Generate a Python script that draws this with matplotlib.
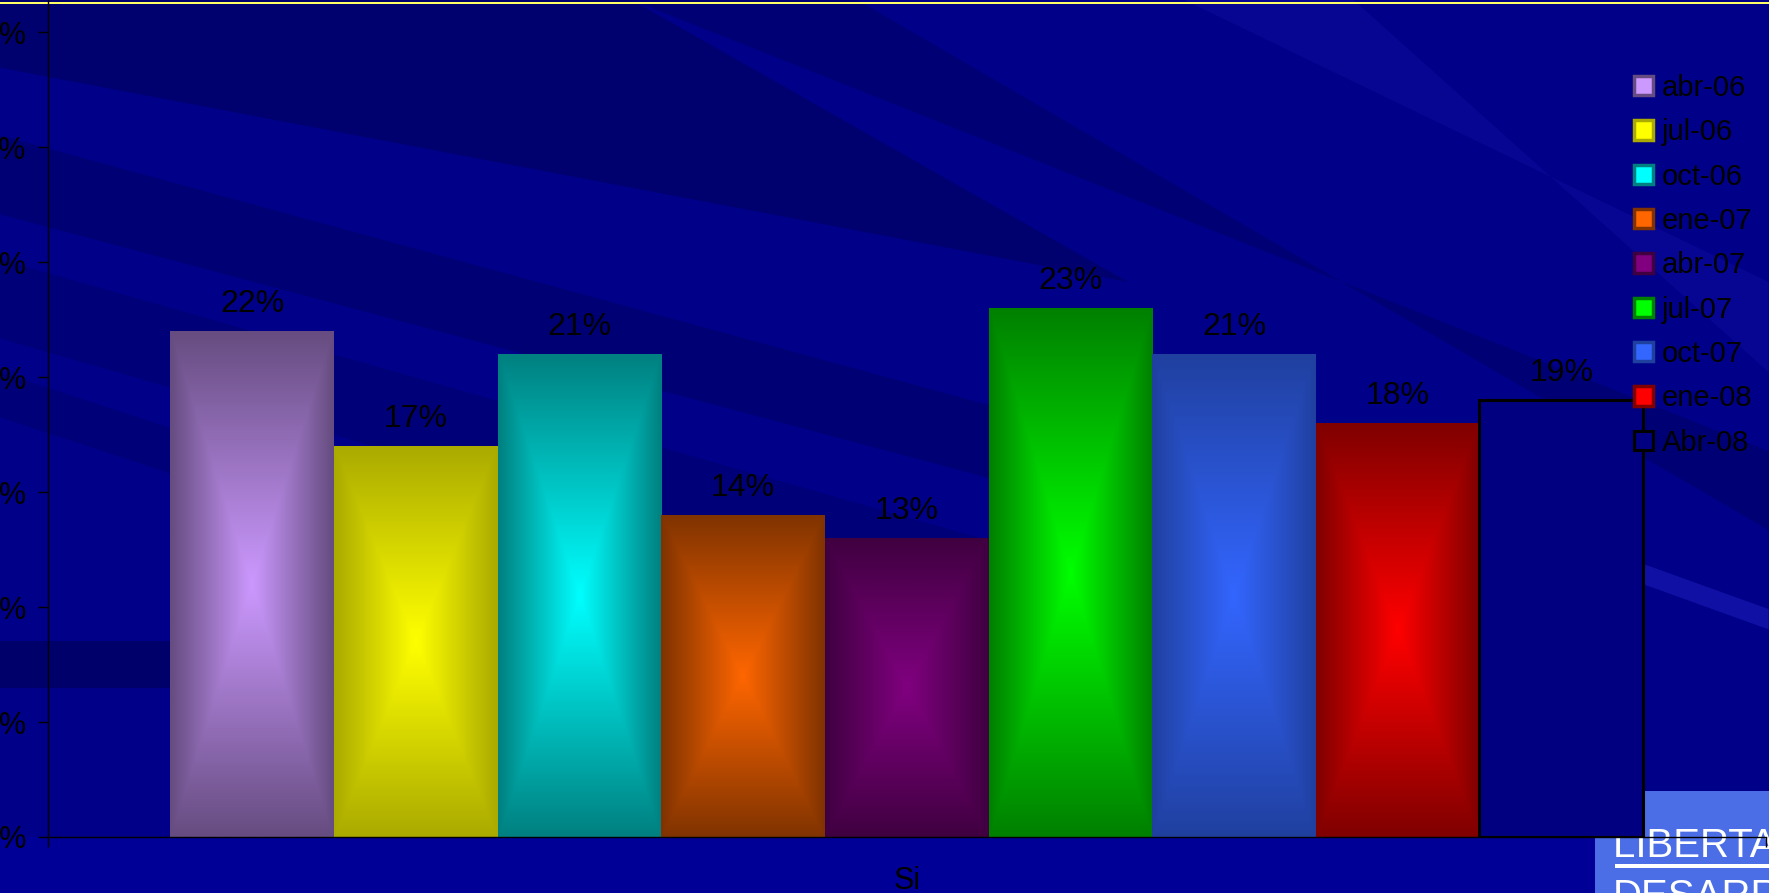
import numpy as np
import matplotlib
matplotlib.use('Agg')
import matplotlib.pyplot as plt
from matplotlib import font_manager
from matplotlib.patches import Patch, Polygon, Rectangle

# data
category = 'Si'
series = ['abr-06', 'jul-06', 'oct-06', 'ene-07', 'abr-07', 'jul-07', 'oct-07', 'ene-08', 'Abr-08']
values = [22, 17, 21, 14, 13, 23, 21, 18, 19]
yticks = [0, 5, 10, 15, 20, 25, 30, 35]

# colours (centre, edge) for the "from centre" gradient fill
centre_cols = ['#CC99FF', '#FFFF00', '#00FFFF', '#FF6600', '#800080', '#00FF00', '#3366FF', '#FF0000', None]
edge_cols = ['#664C80', '#AAAA00', '#008080', '#803300', '#400040', '#008000', '#2040A0', '#800000', None]

main_font = 'Liberation Sans'
plt.rcParams['font.family'] = [main_font, 'DejaVu Sans']

W, H = 1769, 893
fig = plt.figure(figsize=(W / 100, H / 100), dpi=100)
fig.patch.set_facecolor('#000088')

def px(pts):
    # preview pixel coords -> figure fraction
    return [(x * 1.128 / W, 1 - y * 1.128 / H) for x, y in pts]

# background streaks
dark = [
    ([(0, 0), (560, 0), (1000, 250), (0, 60)], 0.35),
    ([(0, 120), (0, 190), (1050, 470), (1100, 420)], 0.25),
    ([(0, 230), (0, 300), (900, 560), (950, 500)], 0.22),
    ([(0, 330), (0, 370), (700, 600), (720, 565)], 0.2),
    ([(0, 568), (160, 568), (160, 610), (0, 610)], 0.4),
    ([(560, 0), (760, 0), (1568, 470), (1568, 400)], 0.25),
]
for pts, a in dark:
    fig.patches.append(Polygon(px(pts), closed=True, transform=fig.transFigure,
                               facecolor='#000040', alpha=a, lw=0, zorder=-5))
light = [
    ([(1457, 500), (1568, 540), (1568, 558), (1457, 518)], 0.5),
    ([(1050, 0), (1200, 0), (1568, 330), (1568, 250)], 0.2),
]
for pts, a in light:
    fig.patches.append(Polygon(px(pts), closed=True, transform=fig.transFigure,
                               facecolor='#2020C0', alpha=a, lw=0, zorder=-5))
# lower band under the axis
fig.patches.append(Rectangle((0, 0), 1, (H - 837) / H, transform=fig.transFigure,
                             facecolor='#000096', lw=0, zorder=-4))

# yellow line on top
fig.patches.append(Rectangle((0, 1 - 4 / H), 1, 2.5 / H, transform=fig.transFigure,
                             facecolor='#FFFF66', lw=0, zorder=-4))

# logo in the corner
fig.patches.append(Rectangle((1595 / W, 0), 1 - 1595 / W, (H - 791) / H, transform=fig.transFigure,
                             facecolor='#4B6EE6', lw=0, zorder=-3))
fig.text(1613 / W, 1 - 857 / H, 'LIBERTAD Y', color='white', fontsize=29,
         va='baseline', ha='left', zorder=-2)
fig.patches.append(Rectangle((1615 / W, 1 - 868 / H), 1, 4 / H, transform=fig.transFigure,
                             facecolor='white', lw=0, zorder=-2))
fig.text(1613 / W, 1 - 908 / H, 'DESARROLLO', color='white', fontsize=29,
         va='baseline', ha='left', zorder=-2)

ax = fig.add_axes([47.5 / W, (H - 837) / H, (1766 - 47.5) / W, 837 / H])
ax.patch.set_alpha(0)

n = len(values)
group = 0.857
bw = group / n
xs = -group / 2 + bw * (np.arange(n) + 0.5)

# gradient image used for each bar
u = np.linspace(-1, 1, 80)
v = np.linspace(-1, 1, 240)
U, V = np.meshgrid(u, v)
T = np.maximum(np.abs(U), np.abs(V))[..., None]

handles = []
for i, (x, val) in enumerate(zip(xs, values)):
    c1, c2 = centre_cols[i], edge_cols[i]
    if c1 is None:
        ax.bar(x, val, width=bw, color='#000080', edgecolor='black', linewidth=2.2, zorder=3)
        handles.append(Patch(facecolor='#000080', edgecolor='black', linewidth=2.2, label=series[i]))
    else:
        a = np.array(matplotlib.colors.to_rgb(c1))
        b = np.array(matplotlib.colors.to_rgb(c2))
        img = a * (1 - T) + b * T
        ax.imshow(img, extent=[x - bw / 2, x + bw / 2, 0, val], aspect='auto',
                  interpolation='bilinear', zorder=2, origin='lower')
        handles.append(Patch(facecolor=c1, edgecolor=c2, linewidth=2.5, label=series[i]))
    ax.annotate(f'{val}%', (x, val), xytext=(0, 9), textcoords='offset points',
                ha='center', va='bottom', fontsize=23, color='black')

ax.set_xlim(-0.5, 0.5)
ax.set_ylim(0, 36.4)

for s in ['top', 'right']:
    ax.spines[s].set_visible(False)
for s in ['left', 'bottom']:
    ax.spines[s].set_color('black')
    ax.spines[s].set_linewidth(1)

ax.set_yticks(yticks)
ax.set_yticklabels([f'{t}%' for t in yticks])
ax.tick_params(axis='y', length=7, width=1, color='black', labelcolor='black',
               labelsize=22, pad=8)
ax.set_xticks([-0.5, 0.5])
ax.set_xticklabels(['', ''])
ax.set_xticks([0], minor=True)
ax.set_xticklabels([category], minor=True)
ax.tick_params(axis='x', which='major', length=7, width=1, color='black')
ax.tick_params(axis='x', which='minor', length=0, labelsize=22, labelcolor='black', pad=21)

leg = ax.legend(handles=handles, loc='upper left', bbox_to_anchor=(1634 / W, 1 - 74 / H),
                bbox_transform=fig.transFigure, frameon=False, fontsize=21,
                handlelength=0.65, handleheight=0.65, handletextpad=0.3,
                labelspacing=0.56, borderpad=0, borderaxespad=0)
for t in leg.get_texts():
    t.set_color('black')

fig.savefig('out.png', dpi=100, facecolor=fig.get_facecolor())
